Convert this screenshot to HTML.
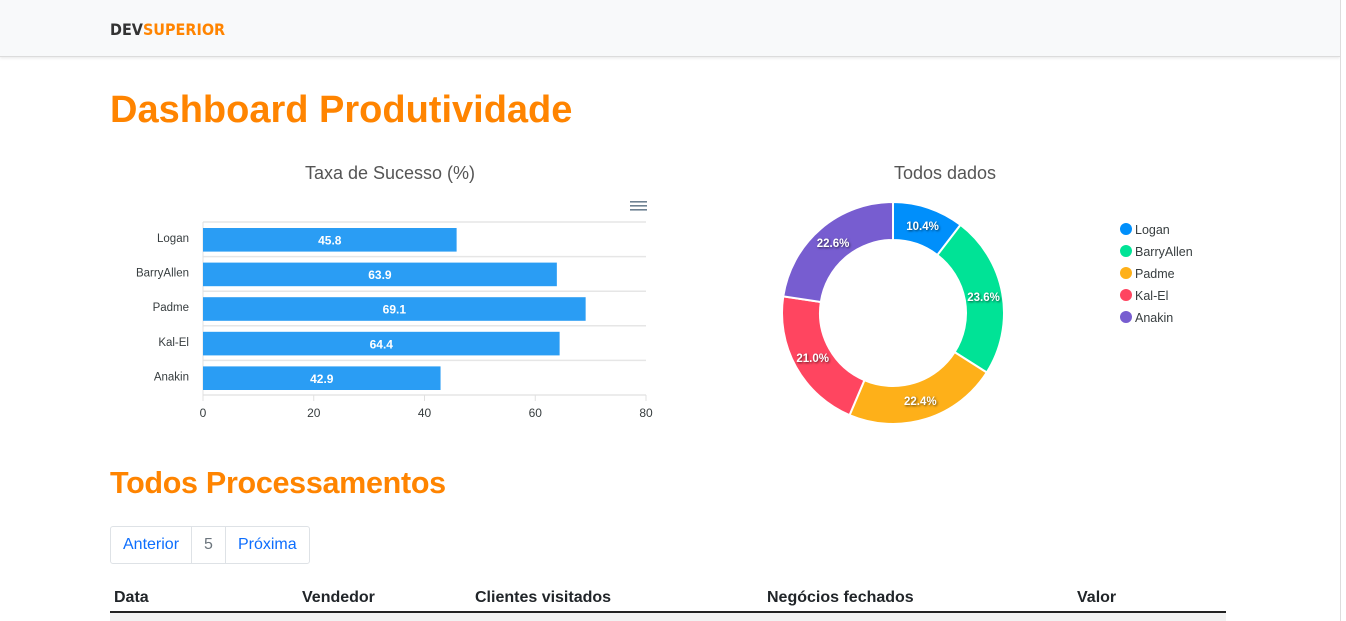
<!DOCTYPE html>
<html><head><meta charset="utf-8"><style>
body{margin:0;width:1346px;height:621px;overflow:hidden;background:#fff;font-family:"Liberation Sans",sans-serif;position:relative}
.nav{position:absolute;left:0;top:0;width:1340px;height:56px;background:#f8f9fa;border-bottom:1px solid #dcdcdc;box-shadow:0 1px 3px rgba(0,0,0,.1)}
.logo{position:absolute;left:110px;top:20px;font-weight:bold;font-size:16px;letter-spacing:0px;font-family:"DejaVu Sans Condensed","Liberation Sans",sans-serif}
h1{position:absolute;left:110px;top:89px;margin:0;font-size:38px;font-weight:bold;letter-spacing:0;color:#ff8400}
h2{position:absolute;left:110px;top:466px;margin:0;font-size:30.5px;font-weight:bold;letter-spacing:-0.3px;color:#ff8400}
.pag{position:absolute;left:110px;top:526px;height:36px;border:1px solid #dee2e6;border-radius:3px;display:flex;font-size:16px}
.pag div{padding:0 12px;line-height:36px;border-right:1px solid #dee2e6;color:#0d6efd}
.pag div:last-child{border-right:none}
.th{position:absolute;top:589px;font-weight:bold;font-size:16px;color:#212529}
.scroll{position:absolute;left:1340px;top:0;width:6px;height:621px;background:#fff;border-left:1px solid #ddd}
</style></head><body>
<div class="nav"><div class="logo"><span style="color:#333">DEV</span><span style="color:#ff8400">SUPERIOR</span></div></div>
<div class="scroll"></div>
<h1>Dashboard Produtividade</h1>
<svg id="bar" width="560" height="300" style="position:absolute;left:100px;top:150px"></svg>
<svg id="donut" width="640" height="300" style="position:absolute;left:700px;top:150px"></svg>
<h2>Todos Processamentos</h2>
<div class="pag"><div>Anterior</div><div style="color:#6c757d">5</div><div>Próxima</div></div>
<div class="th" style="left:114px">Data</div>
<div class="th" style="left:302px">Vendedor</div>
<div class="th" style="left:475px">Clientes visitados</div>
<div class="th" style="left:767px">Negócios fechados</div>
<div class="th" style="left:1077px">Valor</div>
<div style="position:absolute;left:110px;top:611px;width:1116px;height:2px;background:#222"></div>
<div style="position:absolute;left:110px;top:613px;width:1116px;height:8px;background:#f2f2f2"></div>
<script>
const categories=["Logan","BarryAllen","Padme","Kal-El","Anakin"];
const successRates=[45.8,63.9,69.1,64.4,42.9];
const xTicks=[0,20,40,60,80];
const shares=[10.4,23.6,22.4,21.0,22.6];
const colors=["#008ffb","#00e396","#feb019","#ff4560","#775dd0"];
const NS="http://www.w3.org/2000/svg";
function mk(p,t,a,txt){const e=document.createElementNS(NS,t);for(const k in a)e.setAttribute(k,a[k]);if(txt!==undefined)e.textContent=txt;p.appendChild(e);return e;}
const b=document.getElementById('bar');
const x0=103,x1=546,yTop=72,band=34.6;
const xs=v=>x0+(v-0)/(80-0)*(x1-x0);
let t=mk(b,'text',{x:290,y:29,'text-anchor':'middle','font-size':18,fill:'#555'},'Taxa de Sucesso (%)');

const menu=mk(b,'g',{});
[51,55,59].forEach(y=>mk(menu,'rect',{x:530,y:y,width:17,height:1.6,fill:'#6e8192'}));
for(let i=0;i<=categories.length;i++){const l=mk(b,'line',{x1:x0,x2:x1,y1:yTop+i*band,y2:yTop+i*band,stroke:'#e6e6e6','stroke-width':1.5});}
mk(b,'line',{x1:x0,x2:x0,y1:yTop,y2:yTop+5*band,stroke:'#e0e0e0'});
categories.forEach((c,i)=>{
 const y=yTop+i*band+6,w=xs(successRates[i])-x0;
 const r=mk(b,'rect',{x:x0,y:y,width:w,height:band-11,fill:'#2a9df4'});
 
 const v=mk(b,'text',{x:x0+w/2,y:y+16.5,'text-anchor':'middle','font-size':12,'font-weight':'bold',fill:'#fff'},successRates[i].toFixed(1));
 
 const lb=mk(b,'text',{x:89,y:y+14,'text-anchor':'end','font-size':11.5,fill:'#373d3f'},c);
 
});
xTicks.forEach(v=>{mk(b,'line',{x1:xs(v),x2:xs(v),y1:yTop+5*band,y2:yTop+5*band+6,stroke:'#e0e0e0'});
 const tx=mk(b,'text',{x:xs(v),y:267,'text-anchor':'middle','font-size':12,fill:'#373d3f'},v);
 });
const d=document.getElementById('donut');
t=mk(d,'text',{x:245,y:29,'text-anchor':'middle','font-size':18,fill:'#555'},'Todos dados');

const cx=193,cy=163,R=111,r0=73;
const tot=shares.reduce((a,b)=>a+b,0);let ang=0;
const pt=(rad,a)=>[cx+rad*Math.sin(a),cy-rad*Math.cos(a)];
shares.forEach((s,i)=>{
 const a0=ang,a1=ang+s/tot*2*Math.PI;ang=a1;const lg=a1-a0>Math.PI?1:0;
 const [p1x,p1y]=pt(R,a0),[p2x,p2y]=pt(R,a1),[p3x,p3y]=pt(r0,a1),[p4x,p4y]=pt(r0,a0);
 const p=mk(d,'path',{d:`M${p1x},${p1y}A${R},${R} 0 ${lg} 1 ${p2x},${p2y}L${p3x},${p3y}A${r0},${r0} 0 ${lg} 0 ${p4x},${p4y}Z`,fill:colors[i],stroke:'#fff','stroke-width':2});
 
 const [lx,ly]=pt(92,(a0+a1)/2);
 const l=mk(d,'text',{x:lx,y:ly+4,'text-anchor':'middle','font-size':11.5,'font-weight':'bold',fill:'#fff',style:'text-shadow:1px 1px 2px rgba(0,0,0,.6)'},s.toFixed(1)+'%');
 
 const g=mk(d,'g',{});
 mk(g,'circle',{cx:426,cy:79+i*22,r:6,fill:colors[i]});
 mk(g,'text',{x:435,y:84+i*22,'font-size':12.5,fill:'#373d3f'},categories[i]);
});
</script>
</body></html>
